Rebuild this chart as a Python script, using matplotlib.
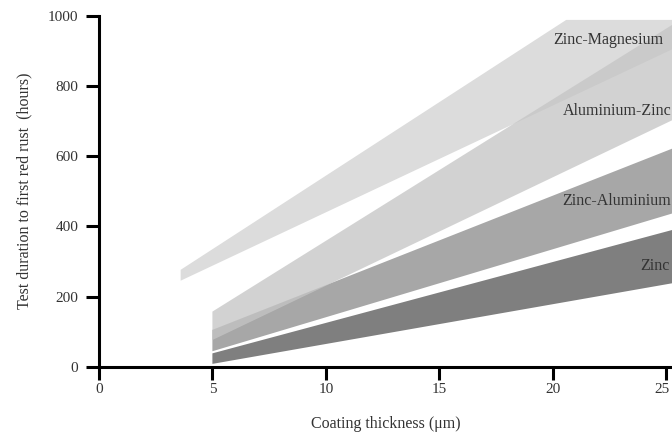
import matplotlib
matplotlib.use("Agg")
import matplotlib.pyplot as plt
import matplotlib.transforms as mtransforms
import numpy as np

# ---- data ----
x_ticks = [0, 5, 10, 15, 20, 25]
y_ticks = [0, 200, 400, 600, 800, 1000]

# band edges: x positions (µm) and test duration (hours)
zinc_x = [5, 25.3]
zinc_low = [8, 238]
zinc_high = [38, 390]

zn_al_x = [5, 25.3]
zn_al_low = [44, 437]
zn_al_high = [105, 622]

al_zn_x = [5, 25.3]
al_zn_low = [76, 703]
al_zn_high = [157, 975]

zn_mg_low_x = [3.6, 25.3]
zn_mg_low = [245, 905]
zn_mg_high_x = [3.6, 20.6, 25.3]
zn_mg_high = [276, 988, 988]

labels = ["Zinc-Magnesium", "Aluminium-Zinc", "Zinc-Aluminium", "Zinc"]
label_x = [20.02, 20.45, 20.42, 23.85]
label_y = [918, 717, 460, 275]

plt.rcParams['font.family'] = ['Liberation Serif', 'DejaVu Serif']
TXT = '#333333'

fig = plt.figure(figsize=(6.72, 4.36), dpi=100)
ax = fig.add_axes([99/672, 1 - 366.7/436, 1 - 99/672, (366.7 - 15.7)/436])


def band(xl, yl, xu, yu, **kw):
    xs = np.r_[np.asarray(xl, float), np.asarray(xu, float)[::-1]]
    ys = np.r_[np.asarray(yl, float), np.asarray(yu, float)[::-1]]
    ax.fill(xs, ys, linewidth=0, **kw)


band(zn_mg_low_x, zn_mg_low, zn_mg_high_x, zn_mg_high, color='#dcdcdc', zorder=1)
band(zinc_x, zinc_low, zinc_x, zinc_high, color='#7f7f7f', zorder=1)
band(zn_al_x, zn_al_low, zn_al_x, zn_al_high, color='#a7a7a7', zorder=1)
band(al_zn_x, al_zn_low, al_zn_x, al_zn_high, color='#c5c5c5', alpha=0.77, zorder=2)

for t, x, y in zip(labels, label_x, label_y):
    ax.text(x, y, t, fontsize=11.5, color=TXT, ha='left', va='baseline', zorder=3,
            clip_on=False)

ax.set_xlim(0, (672 - 99) / 22.68)
ax.set_ylim(0, 1000)
ax.set_xticks(x_ticks)
ax.set_yticks(y_ticks)
ax.set_xticklabels([str(v) for v in x_ticks])
ax.set_yticklabels([str(v) for v in y_ticks])

for s in ['top', 'right']:
    ax.spines[s].set_visible(False)
for s in ['left', 'bottom']:
    ax.spines[s].set_linewidth(2.2)
    ax.spines[s].set_color('black')
    ax.spines[s].set_zorder(4)

ax.tick_params(axis='both', direction='out', length=9.5, width=2.2, color='black',
               labelcolor=TXT, labelsize=11)
ax.tick_params(axis='x', pad=2.5)
ax.tick_params(axis='y', pad=5.5)
ax.patch.set_alpha(0)

# nudge the last x tick label so it stays inside the figure
last = ax.get_xticklabels()[-1]
last.set_transform(last.get_transform() +
                   mtransforms.ScaledTranslation(-3/72, 0, fig.dpi_scale_trans))

fig.text(24.5/672, 1 - 191/436, "Test duration to first red rust  (hours)",
         rotation=90, ha='center', va='center', fontsize=11.5, color=TXT)
fig.text(386/672, 1 - 424/436, "Coating thickness (\u03bcm)",
         ha='center', va='center', fontsize=11.5, color=TXT)

fig.savefig("out.png", dpi=100)
